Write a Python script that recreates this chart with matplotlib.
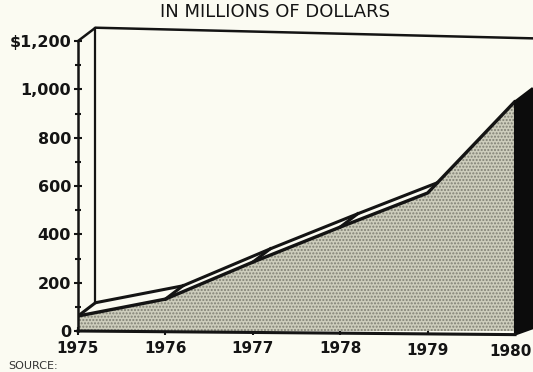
import matplotlib.pyplot as plt
from matplotlib.patches import Polygon
from matplotlib.transforms import ScaledTranslation

years = [1975, 1976, 1977, 1978, 1979, 1980]
values = [62, 132, 285, 430, 571, 950]
year_labels = ['1975', '1976', '1977', '1978', '1979', '1980']
y_ticks = [0, 200, 400, 600, 800, 1000, 1200]
y_labels = ['0', '200', '400', '600', '800', '1,000', '$1,200']

# depth offset for the fake 3-d look
dx = 0.2
dy = 55

bg = '#fbfbf2'
ink = '#141414'
stip = '#cdcdbc'

fig = plt.figure(figsize=(5.33, 3.72), dpi=100, facecolor=bg)
ax = fig.add_axes([78 / 533, 41 / 372, 455 / 533, 290 / 372])
ax.set_facecolor(bg)
ax.set_xlim(1975, 1980 + 18 / 87.4)
ax.set_ylim(0, 1200)
for s in ax.spines.values():
    s.set_visible(False)

back_x = [x + dx for x in years]
back_y = [v + dy for v in values]

# where the back edge disappears behind the steep last segment
s_back = (back_y[4] - back_y[3]) / (back_x[4] - back_x[3])
s_front = (values[5] - values[4]) / (years[5] - years[4])
xi = (values[4] - s_front * years[4] - back_y[3] + s_back * back_x[3]) / (s_back - s_front)
yi = values[4] + s_front * (xi - years[4])

# back wall
ax.plot([years[0], years[0] + dx, years[-1] + dx],
        [1200, 1200 + dy, 1200 + dy * 0.2], color=ink, lw=1.8, clip_on=False)
ax.plot([back_x[0], back_x[0]], [back_y[0], 1200 + dy], color=ink, lw=1.6, clip_on=False)

# stippled area under the front line
ax.fill_between(years, 0, values, facecolor=stip, edgecolor='#7f7f74',
                hatch='.....', lw=0, zorder=2)

# ribbon top
rib = [(years[i], values[i]) for i in range(5)] + [(xi, yi)] + \
      [(back_x[i], back_y[i]) for i in range(3, -1, -1)]
ax.add_patch(Polygon(rib, closed=True, facecolor=bg, edgecolor='none', zorder=3))
ax.plot(years, values, color=ink, lw=2.4, zorder=4, solid_capstyle='round',
        solid_joinstyle='round')
ax.plot(back_x[:4] + [xi], back_y[:4] + [yi], color=ink, lw=2.2, zorder=4,
        solid_capstyle='round')
for i in range(4):
    ax.plot([years[i], back_x[i]], [values[i], back_y[i]], color=ink, lw=2.2, zorder=4)

# dark right wall
wall = Polygon([(years[5], -15), (years[5], values[5]), (back_x[5], back_y[5]),
                (back_x[5], dy * 0.2)], closed=True, facecolor='#0c0c0c',
               edgecolor='#0c0c0c', lw=1.5, zorder=5, clip_on=False)
ax.add_patch(wall)

# axes lines
ax.plot([years[0], years[0]], [0, 1200], color=ink, lw=1.8, zorder=6, clip_on=False)
ax.plot([years[0], years[-1]], [0, -15], color=ink, lw=2.2, zorder=6, clip_on=False)

ax.set_yticks(y_ticks)
ax.set_yticklabels(y_labels, fontsize=11.5, fontweight='bold', color=ink)
ax.set_yticks(range(100, 1200, 200), minor=True)
ax.tick_params(axis='y', which='major', length=6, width=1.5, direction='inout',
               color=ink, pad=2)
ax.tick_params(axis='y', which='minor', length=4, width=1.5, direction='inout', color=ink)
ax.set_xticks(years)
ax.set_xticklabels(year_labels, fontsize=11, fontweight='bold', color=ink)
ax.tick_params(axis='x', length=6, width=1.5, direction='inout', color=ink, pad=4)
# labels drift lower to the right, last one pulled in a little
shifts = [(0, 0), (0, 0), (0, 0), (0, 0), (0, 2), (-4, 3)]
for lab, (sx, sy) in zip(ax.get_xticklabels(), shifts):
    lab.set_transform(lab.get_transform() +
                      ScaledTranslation(sx / 100, -sy / 100, fig.dpi_scale_trans))

fig.text(275 / 533, 1 - 12 / 372, 'IN MILLIONS OF DOLLARS', ha='center', va='center',
         fontsize=13, color=ink)
fig.text(8 / 533, 1 - 366 / 372, 'SOURCE:', ha='left', va='center',
         fontsize=8, color='#333333')

fig.savefig('out.png', dpi=100, facecolor=bg)
